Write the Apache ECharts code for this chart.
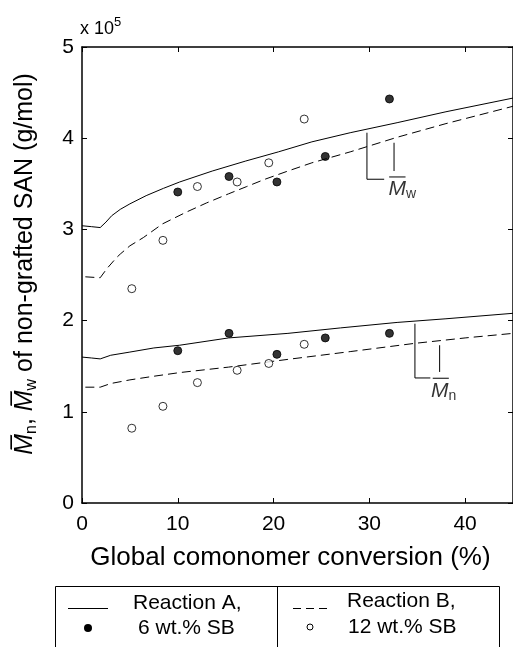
<!DOCTYPE html>
<html>
<head>
<meta charset="utf-8">
<script src="https://cdn.jsdelivr.net/npm/echarts@6/dist/echarts.min.js"></script>
<style>
    html, body { margin: 0; padding: 0; background: #fff; }
    #chart { width: 513px; height: 647px; }
</style>
</head>
<body>
<div id="chart"></div>
<script>
    // measured points (x: conversion %, y: molar mass / 1e5)
    var convA = [10.0, 15.35, 20.35, 25.4, 32.1]
    var mwA = [3.41, 3.58, 3.52, 3.80, 4.43]
    var mnA = [1.67, 1.86, 1.63, 1.81, 1.86]
    var convB = [5.2, 8.45, 12.05, 16.2, 19.5, 23.2]
    var mwB = [2.35, 2.88, 3.47, 3.52, 3.73, 4.21]
    var mnB = [0.82, 1.06, 1.32, 1.455, 1.53, 1.74]

    // model curves
    var mwModelAx = [0, 1, 1.9, 2.5, 3.1, 4, 5, 6.7, 8.5, 10.2, 13.6, 17.1, 20.5, 24, 28, 32.9, 38, 45]
    var mwModelAy = [3.04, 3.03, 3.02, 3.08, 3.15, 3.22, 3.28, 3.37, 3.45, 3.52, 3.64, 3.75, 3.85, 3.96, 4.06, 4.17, 4.29, 4.44]
    var mwModelBx = [0.35, 1.9, 2.6, 3.6, 4.0, 5, 6.4, 8.4, 10.9, 13, 15.3, 17.2, 19.1, 21.5, 24, 28, 32.9, 38, 45]
    var mwModelBy = [2.48, 2.47, 2.57, 2.69, 2.73, 2.82, 2.91, 3.06, 3.19, 3.29, 3.39, 3.47, 3.55, 3.64, 3.73, 3.85, 4.01, 4.16, 4.35]
    var mnModelAx = [0, 1, 1.9, 3, 5, 7.5, 10.2, 15.3, 21.5, 27, 32.9, 38, 45]
    var mnModelAy = [1.60, 1.59, 1.58, 1.62, 1.655, 1.70, 1.73, 1.81, 1.86, 1.92, 1.98, 2.02, 2.08]
    var mnModelBx = [0.35, 1.9, 3, 5, 7.5, 10.2, 15.3, 21.5, 28, 34.7, 40, 45]
    var mnModelBy = [1.27, 1.27, 1.31, 1.35, 1.39, 1.43, 1.49, 1.575, 1.66, 1.75, 1.81, 1.86]

    // bracket annotations (data coords)
    var mwBracket = [[[29.75, 4.06], [29.75, 3.55], [31.55, 3.55]], [[32.58, 3.95], [32.58, 3.64]], [[32.07, 3.575], [33.78, 3.575]]]
    var mnBracket = [[[34.76, 1.966], [34.76, 1.371], [36.37, 1.371]], [[37.34, 1.73], [37.34, 1.437]], [[36.62, 1.368], [38.3, 1.368]]]
    var mwLabelPos = [32.0, 3.44]
    var mnLabelPos = [36.45, 1.225]

    var FONT = 'Liberation Sans, Arial, sans-serif'

    function zip (xs, ys) {
        return xs.map(function (x, i) { return [x, ys[i]] })
    }

    function curve (xs, ys, dashed) {
        return {
            type: 'line',
            data: zip(xs, ys),
            symbol: 'none',
            silent: true,
            lineStyle: { color: '#000', width: 1, type: dashed ? [9, 5] : 'solid' },
            z: 2
        }
    }

    function bracketSeries (polys) {
        return polys.map(function (p) {
            return {
                type: 'line',
                data: p,
                symbol: 'none',
                silent: true,
                lineStyle: { color: '#000', width: 1 },
                z: 3
            }
        })
    }

    function labelSeries (pos, sub) {
        return {
            type: 'scatter',
            data: [pos],
            symbolSize: 0,
            silent: true,
            label: {
                show: true,
                position: [0, 0],
                align: 'left',
                verticalAlign: 'middle',
                formatter: '{m|M}{s|' + sub + '}',
                rich: {
                    m: { fontFamily: FONT, fontStyle: 'italic', fontSize: 21, lineHeight: 24, color: '#000' },
                    s: { fontFamily: FONT, fontSize: 14, lineHeight: 14, verticalAlign: 'bottom', color: '#000' }
                }
            }
        }
    }

    function points (xs, ys, filled) {
        return {
            type: 'scatter',
            data: zip(xs, ys),
            symbol: 'circle',
            symbolSize: 8,
            silent: true,
            itemStyle: filled
                ? { color: '#000', borderColor: '#000', borderWidth: 1 }
                : { color: '#fff', borderColor: '#000', borderWidth: 1 },
            z: 4
        }
    }

    var axisBase = {
        type: 'value',
        axisLine: { show: true, onZero: false, lineStyle: { color: '#000', width: 1.5 } },
        axisTick: { show: true, inside: true, length: 5, lineStyle: { color: '#000', width: 1 } },
        splitLine: { show: false }
    }

    var series = [
        curve(mwModelAx, mwModelAy, false),
        curve(mwModelBx, mwModelBy, true),
        curve(mnModelAx, mnModelAy, false),
        curve(mnModelBx, mnModelBy, true),
        points(convA, mwA, true),
        points(convA, mnA, true),
        points(convB, mwB, false),
        points(convB, mnB, false),
        labelSeries(mwLabelPos, 'w'),
        labelSeries(mnLabelPos, 'n')
    ].concat(bracketSeries(mwBracket), bracketSeries(mnBracket))

    var legendText = { fontFamily: FONT, fontSize: 21, fill: '#000' }

    var option = {
        animation: false,
        backgroundColor: '#fff',
        // the plot box runs a few pixels past the right edge of the picture
        grid: { left: 82, width: 435, top: 47, bottom: 144 },
        xAxis: [
            Object.assign({}, axisBase, {
                min: 0, max: 45, interval: 10,
                position: 'bottom',
                axisLabel: { color: '#000', fontFamily: FONT, fontSize: 21, margin: 11, showMaxLabel: false },
                name: 'Global comonomer conversion (%)',
                nameLocation: 'middle',
                nameGap: 42,
                nameTextStyle: { color: '#000', fontFamily: FONT, fontSize: 26, padding: [0, 14, 0, 0] }
            }),
            Object.assign({}, axisBase, {
                min: 0, max: 45, interval: 10,
                position: 'top',
                axisLabel: { show: false }
            })
        ],
        yAxis: [
            Object.assign({}, axisBase, {
                min: 0, max: 5, interval: 1,
                position: 'left',
                axisLabel: { color: '#000', fontFamily: FONT, fontSize: 21, margin: 8 },
                name: '{m|M\u0305}{s|n}{t|, }{m|M\u0305}{s|w}{t| of non-grafted SAN (g/mol)}',
                nameLocation: 'middle',
                nameGap: 42,
                nameTextStyle: {
                    padding: [0, 0, 0, 22],
                    rich: {
                        m: { fontFamily: FONT, fontStyle: 'italic', fontSize: 25, lineHeight: 30, color: '#000' },
                        s: { fontFamily: FONT, fontSize: 16, lineHeight: 15, verticalAlign: 'bottom', color: '#000' },
                        t: { fontFamily: FONT, fontSize: 25, lineHeight: 30, color: '#000' }
                    }
                }
            }),
            Object.assign({}, axisBase, {
                min: 0, max: 5, interval: 1,
                position: 'right',
                axisLabel: { show: false }
            })
        ],
        graphic: [
            {
                type: 'text', left: 80, top: 16,
                style: {
                    text: '{a|x 10}{b|5}',
                    rich: {
                        a: { fontFamily: FONT, fontSize: 18, lineHeight: 22, fill: '#000', verticalAlign: 'bottom' },
                        b: { fontFamily: FONT, fontSize: 13, lineHeight: 13, fill: '#000', verticalAlign: 'top' }
                    }
                }
            },
            // legend box
            { type: 'rect', shape: { x: 55.5, y: 586.5, width: 444, height: 90 }, style: { fill: 'none', stroke: '#000', lineWidth: 1 } },
            { type: 'line', shape: { x1: 277.5, y1: 586, x2: 277.5, y2: 680 }, style: { stroke: '#000', lineWidth: 1 } },
            { type: 'line', shape: { x1: 68, y1: 608.5, x2: 108, y2: 608.5 }, style: { stroke: '#000', lineWidth: 1 } },
            { type: 'circle', shape: { cx: 88, cy: 628, r: 4 }, style: { fill: '#000' } },
            { type: 'text', left: 133, top: 593, style: Object.assign({ text: 'Reaction A,' }, legendText) },
            { type: 'text', left: 138, top: 618, style: Object.assign({ text: '6 wt.% SB' }, legendText) },
            { type: 'line', shape: { x1: 293, y1: 608.5, x2: 331, y2: 608.5 }, style: { stroke: '#000', lineWidth: 1, lineDash: [8, 5] } },
            { type: 'circle', shape: { cx: 310, cy: 627, r: 3 }, style: { fill: '#fff', stroke: '#000', lineWidth: 1 } },
            { type: 'text', left: 347, top: 591, style: Object.assign({ text: 'Reaction B,' }, legendText) },
            { type: 'text', left: 348, top: 617, style: Object.assign({ text: '12 wt.% SB' }, legendText) }
        ],
        series: series
    }

    var myChart = echarts.init(document.getElementById('chart'))
    myChart.setOption(option)
</script>
</body>
</html>
